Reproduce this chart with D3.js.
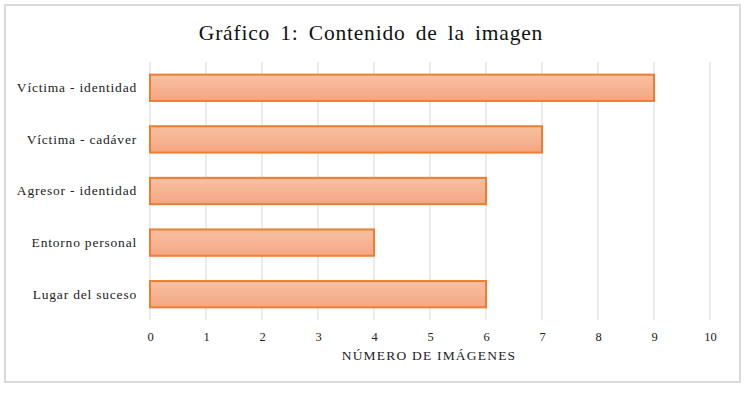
<!DOCTYPE html>
<html><head><meta charset="utf-8">
<script src="https://cdn.jsdelivr.net/npm/d3@7"></script>
<style>body{margin:0;background:#fff}svg{display:block}</style>
</head><body>
<script>
const categories = ["Víctima - identidad","Víctima - cadáver","Agresor - identidad","Entorno personal","Lugar del suceso"];
const values = [9,7,6,4,6];
const ticks = [0,1,2,3,4,5,6,7,8,9,10];
const title = "Gráfico 1: Contenido de la imagen";
const xTitle = "NÚMERO DE IMÁGENES";

const W=747,H=396;
const svg=d3.select("body").append("svg").attr("width",W).attr("height",H);
const font="'Liberation Serif','Times New Roman',serif";
svg.append("rect").attr("x",5).attr("y",5).attr("width",735).attr("height",377).attr("fill","#fff").attr("stroke","#d9d9d9").attr("stroke-width",2);

const defs=svg.append("defs");
const g=defs.append("linearGradient").attr("id","bg").attr("x1",0).attr("y1",0).attr("x2",0).attr("y2",1);
g.append("stop").attr("offset","0%").attr("stop-color","#f8c1a2");
g.append("stop").attr("offset","100%").attr("stop-color","#f4a683");

const x=d3.scaleLinear().domain([0,10]).range([150,710]);
const y=d3.scaleBand().domain(categories).range([62,320]).paddingInner(0.49).paddingOuter(0.245);

svg.append("g").selectAll("line").data(ticks).join("line")
 .attr("x1",d=>x(d)).attr("x2",d=>x(d)).attr("y1",62).attr("y2",320)
 .attr("stroke","#d9d9d9").attr("stroke-width",1);

svg.append("g").selectAll("rect").data(values).join("rect")
 .attr("x",x(0)).attr("y",(d,i)=>y(categories[i])).attr("width",d=>x(d)-x(0)).attr("height",y.bandwidth())
 .attr("fill","url(#bg)").attr("stroke","#ed7d31").attr("stroke-width",2);

const ax=svg.append("g").attr("transform","translate(0,320)").call(d3.axisBottom(x).tickValues(ticks).tickSize(0).tickPadding(12).tickFormat(d3.format("d")));
ax.select(".domain").remove();
ax.selectAll("text").attr("font-family",font).attr("font-size",12.5).attr("fill","#222");

const ay=svg.append("g").attr("transform","translate(150,0)").call(d3.axisLeft(y).tickSize(0).tickPadding(13));
ay.select(".domain").remove();
ay.selectAll("text").attr("font-family",font).attr("font-size",13.5).attr("letter-spacing","0.8px").attr("fill","#222");

svg.append("text").attr("x",371).attr("y",40).attr("text-anchor","middle").attr("font-family",font).attr("font-size",21.5).attr("fill","#111").attr("letter-spacing","0.8px").attr("word-spacing","4px").text(title);
svg.append("text").attr("x",429).attr("y",360).attr("text-anchor","middle").attr("font-family",font).attr("font-size",13.5).attr("fill","#222").attr("letter-spacing","1.2px").text(xTitle);
</script>
</body></html>
